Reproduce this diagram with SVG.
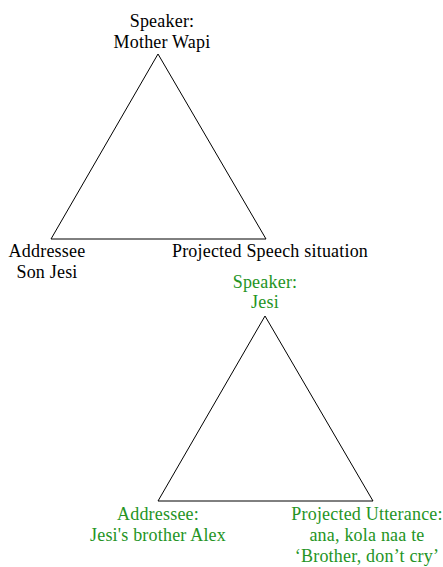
<svg xmlns="http://www.w3.org/2000/svg" width="443" height="567" viewBox="0 0 443 567">
<style>
text{font-family:"Liberation Serif","DejaVu Serif",serif;font-size:18px;text-anchor:middle;letter-spacing:0.2px}
.g{fill:#249424}
.k{fill:#000}
.e{stroke:#000;stroke-width:1;fill:none}
</style>
<rect width="443" height="567" fill="#fff"/>
<g id="connectors">
<line class="e" x1="158" y1="54" x2="51" y2="239"/>
<line class="e" x1="158" y1="54" x2="266" y2="239"/>
<line class="e" x1="51" y1="239" x2="266" y2="239"/>
<line class="e" x1="265" y1="316" x2="158" y2="501"/>
<line class="e" x1="265" y1="316" x2="373" y2="501"/>
<line class="e" x1="158" y1="501" x2="373" y2="501"/>
</g>
<g id="speaker1"><text class="k" x="162" y="27">Speaker:</text><text class="k" x="162" y="48">Mother Wapi</text></g>
<g id="addressee1"><text class="k" x="47" y="257">Addressee</text><text class="k" x="47" y="278">Son Jesi</text></g>
<g id="projected1"><text class="k" x="270" y="257">Projected Speech situation</text></g>
<g id="speaker2"><text class="g" x="265" y="288">Speaker:</text><text class="g" x="265" y="308">Jesi</text></g>
<g id="addressee2"><text class="g" x="158" y="520">Addressee:</text><text class="g" x="158" y="541">Jesi's brother Alex</text></g>
<g id="utterance2"><text class="g" x="367" y="520">Projected Utterance:</text><text class="g" x="367" y="541">ana, kola naa te</text><text class="g" x="367" y="562">‘Brother, don’t cry’</text></g>
</svg>
